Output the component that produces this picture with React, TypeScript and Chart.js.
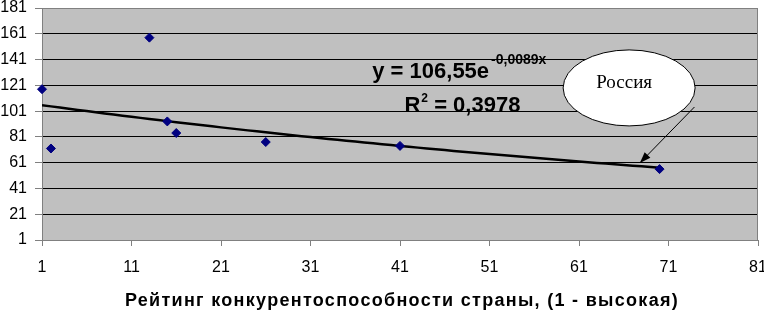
import React, { useEffect, useRef } from 'react';
import { Chart, registerables } from 'chart.js';

Chart.register(...registerables);

// Data
const ratings = [1, 2, 13, 15, 16, 26, 41, 70];
const scores = [118, 72, 158, 93, 84, 77, 74, 56];
const X_MIN = 1;
const X_MAX = 81;
const X_STEP = 10;
const Y_MIN = 1;
const Y_MAX = 181;
const Y_STEP = 20;

// Exponential trend shown on the chart: y = 106,55 e^(-0,0089x)
const TREND_A = 106.55;
const TREND_B = -0.0089;
const TREND_FROM = 1;
const TREND_TO = 70;

const EQ_MAIN = 'y = 106,55e';
const EQ_SUP = '-0,0089x';
const R2_MAIN = 'R';
const R2_SUP = '2';
const R2_REST = ' = 0,3978';
const CALLOUT = 'Россия';
const X_TITLE = 'Рейтинг конкурентоспособности страны, (1 - высокая)';

const trendPoints: { x: number; y: number }[] = [];
for (let x = TREND_FROM; x <= TREND_TO; x += 1) {
  trendPoints.push({ x, y: TREND_A * Math.exp(TREND_B * x) });
}

const decorPlugin = {
  id: 'decor',
  beforeDraw(chart: any) {
    const { ctx, chartArea: a } = chart;
    ctx.save();
    ctx.fillStyle = '#c0c0c0';
    ctx.fillRect(a.left, a.top, a.right - a.left, a.bottom - a.top);
    ctx.restore();
  },
  beforeDatasetsDraw(chart: any) {
    const { ctx, chartArea: a } = chart;
    ctx.save();
    ctx.strokeStyle = '#808080';
    ctx.lineWidth = 1;
    ctx.strokeRect(Math.round(a.left) + 0.5, Math.round(a.top) + 0.5, Math.round(a.right - a.left) - 1, Math.round(a.bottom - a.top));
    ctx.restore();
  },
  afterDatasetsDraw(chart: any) {
    const { ctx, chartArea: a } = chart;
    const xs = chart.scales.x;
    const ys = chart.scales.y;
    ctx.save();

    // equation
    ctx.fillStyle = '#000';
    ctx.textBaseline = 'alphabetic';
    ctx.textAlign = 'left';
    const eqX = xs.getPixelForValue(37.9);
    const eqY = ys.getPixelForValue(126.5);
    ctx.font = 'bold 22px "Liberation Sans", Arial, sans-serif';
    ctx.fillText(EQ_MAIN, eqX, eqY);
    const w1 = ctx.measureText(EQ_MAIN).width;
    ctx.font = 'bold 14px "Liberation Sans", Arial, sans-serif';
    ctx.fillText(EQ_SUP, eqX + w1 + 2, eqY - 14);

    const rX = xs.getPixelForValue(41.5);
    const rY = ys.getPixelForValue(100);
    ctx.font = 'bold 22px "Liberation Sans", Arial, sans-serif';
    ctx.fillText(R2_MAIN, rX, rY);
    const wr = ctx.measureText(R2_MAIN).width;
    ctx.font = 'bold 12px "Liberation Sans", Arial, sans-serif';
    ctx.fillText(R2_SUP, rX + wr + 1, rY - 10);
    const ws = ctx.measureText(R2_SUP).width;
    ctx.font = 'bold 22px "Liberation Sans", Arial, sans-serif';
    ctx.fillText(R2_REST, rX + wr + ws + 1, rY);

    // callout ellipse
    const cx = xs.getPixelForValue(66.6);
    const cy = ys.getPixelForValue(119);
    ctx.beginPath();
    ctx.ellipse(cx, cy, 66, 38, 0, 0, Math.PI * 2);
    ctx.fillStyle = '#fff';
    ctx.fill();
    ctx.strokeStyle = '#000';
    ctx.lineWidth = 1;
    ctx.stroke();
    ctx.fillStyle = '#000';
    ctx.font = '19px "Liberation Serif", "Times New Roman", serif';
    ctx.textAlign = 'center';
    ctx.fillText(CALLOUT, cx - 5, cy);

    // arrow
    const x1 = xs.getPixelForValue(73.9);
    const y1 = ys.getPixelForValue(104.2);
    const x2 = xs.getPixelForValue(67.8);
    const y2 = ys.getPixelForValue(60.8);
    ctx.beginPath();
    ctx.moveTo(x1, y1);
    ctx.lineTo(x2, y2);
    ctx.strokeStyle = '#000';
    ctx.lineWidth = 1;
    ctx.stroke();
    const ang = Math.atan2(y2 - y1, x2 - x1);
    const len = 11;
    const half = 4;
    ctx.beginPath();
    ctx.moveTo(x2, y2);
    ctx.lineTo(x2 - len * Math.cos(ang) + half * Math.sin(ang), y2 - len * Math.sin(ang) - half * Math.cos(ang));
    ctx.lineTo(x2 - len * Math.cos(ang) - half * Math.sin(ang), y2 - len * Math.sin(ang) + half * Math.cos(ang));
    ctx.closePath();
    ctx.fillStyle = '#000';
    ctx.fill();

    // x axis title
    ctx.font = 'bold 18px "Liberation Sans", Arial, sans-serif';
    (ctx as any).letterSpacing = '1.3px';
    ctx.textAlign = 'center';
    ctx.fillText(X_TITLE, (a.left + a.right) / 2 + 2, 306);
    ctx.restore();
  },
};

export default function App() {
  const ref = useRef<HTMLCanvasElement>(null);
  useEffect(() => {
    document.body.style.margin = '0';
    const canvas = ref.current!;
    const chart = new Chart(canvas, {
      type: 'scatter',
      data: {
        datasets: [
          {
            type: 'line',
            data: trendPoints,
            borderColor: '#000',
            borderWidth: 2.5,
            pointRadius: 0,
            fill: false,
            tension: 0,
            order: 2,
          } as any,
          {
            type: 'scatter',
            data: ratings.map((x, i) => ({ x, y: scores[i] })),
            pointStyle: 'rectRot',
            pointRadius: 4.5,
            backgroundColor: '#000080',
            borderColor: '#000080',
            borderWidth: 1,
            clip: false,
            order: 1,
          } as any,
        ],
      },
      options: {
        responsive: false,
        animation: false,
        layout: { padding: { top: 8, right: 6, left: 0, bottom: 0 } },
        plugins: { legend: { display: false }, tooltip: { enabled: false } },
        scales: {
          x: {
            type: 'linear',
            min: X_MIN,
            max: X_MAX,
            ticks: {
              stepSize: X_STEP,
              color: '#000',
              padding: 12,
              font: { family: '"Liberation Sans", Arial, sans-serif', size: 16 },
            },
            grid: { drawOnChartArea: false, drawTicks: true, tickLength: 6, tickColor: '#808080', color: '#808080' },
            border: { display: false },
            afterFit(scale: any) {
              scale.height = 71;
              scale.paddingLeft = 0;
              scale.paddingRight = 0;
            },
          },
          y: {
            type: 'linear',
            min: Y_MIN,
            max: Y_MAX,
            ticks: {
              stepSize: Y_STEP,
              color: '#000',
              padding: 8,
              font: { family: '"Liberation Sans", Arial, sans-serif', size: 16 },
            },
            grid: { color: '#000', lineWidth: 1, tickLength: 7, tickColor: '#808080' },
            border: { display: false },
            afterFit(scale: any) {
              scale.width = 42;
              scale.paddingTop = 0;
              scale.paddingBottom = 0;
            },
          },
        },
      },
      plugins: [decorPlugin],
    });
    return () => chart.destroy();
  }, []);
  return <canvas ref={ref} width={764} height={311} style={{ display: 'block' }} />;
}
